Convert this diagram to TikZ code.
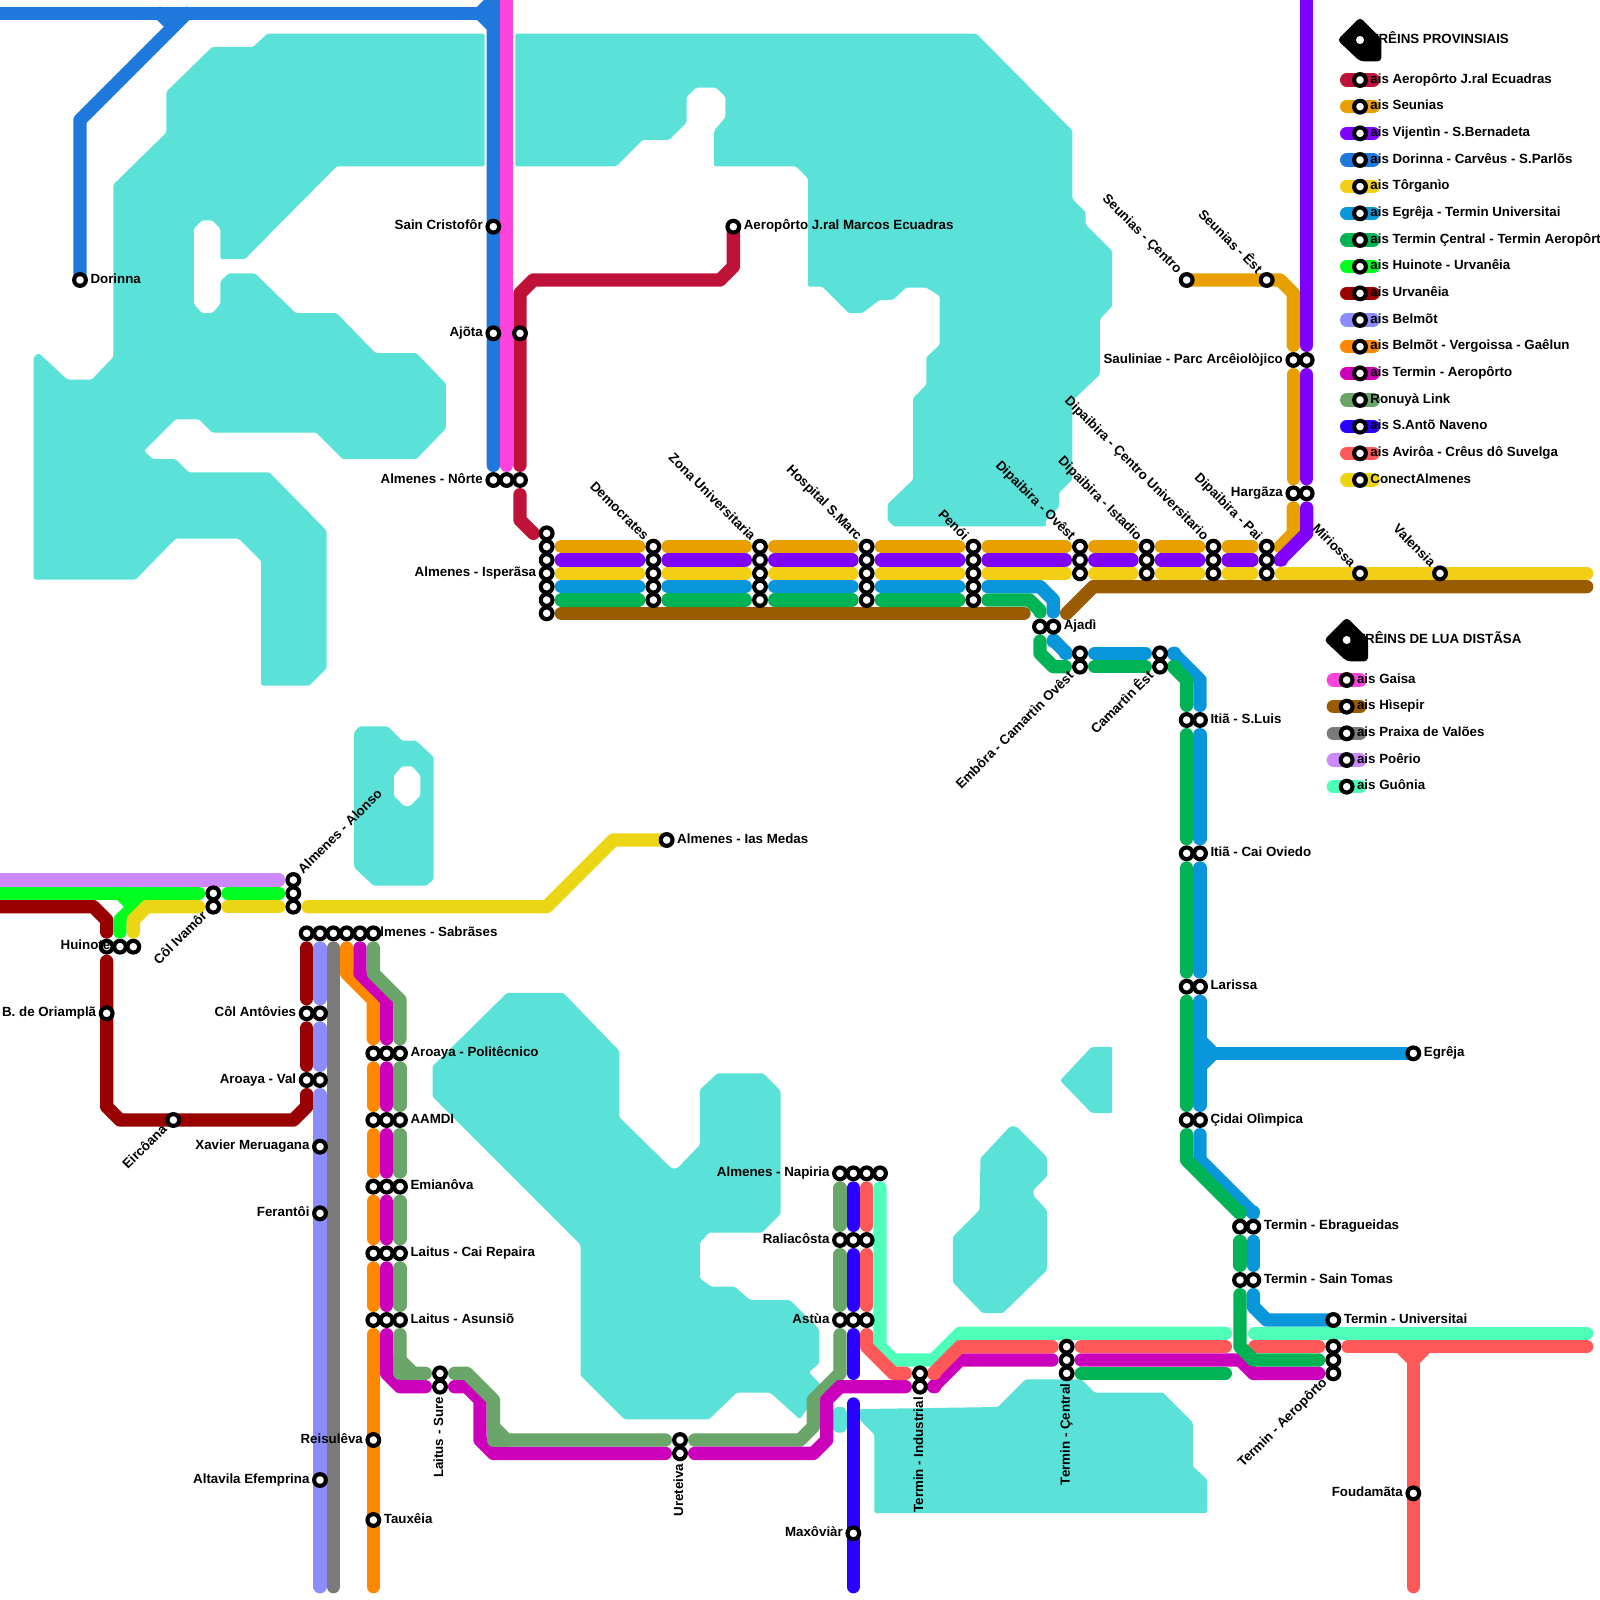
\documentclass[tikz,border=0pt]{standalone}
\usepackage{fontspec}
\setmainfont{Liberation Sans}
\usetikzlibrary{calc}
\definecolor{cwat}{HTML}{5AE2D8}
\definecolor{cae}{HTML}{BF1238}
\definecolor{csn}{HTML}{E8A000}
\definecolor{cvj}{HTML}{8000FF}
\definecolor{cdr}{HTML}{1F78DC}
\definecolor{ctr}{HTML}{F2CE14}
\definecolor{ceg}{HTML}{0A96DA}
\definecolor{ctc}{HTML}{00B354}
\definecolor{chu}{HTML}{00FF20}
\definecolor{cur}{HTML}{990000}
\definecolor{cbe}{HTML}{8C8CFF}
\definecolor{cbv}{HTML}{FF8800}
\definecolor{cta}{HTML}{CC00BB}
\definecolor{cro}{HTML}{6AA56A}
\definecolor{csa}{HTML}{2B00FF}
\definecolor{cav}{HTML}{FF5858}
\definecolor{cco}{HTML}{ECD514}
\definecolor{cga}{HTML}{FF44DD}
\definecolor{chi}{HTML}{995C00}
\definecolor{cpr}{HTML}{7A7A7A}
\definecolor{cpo}{HTML}{CC88FF}
\definecolor{cgu}{HTML}{4DFFB8}
\pgfdeclarelayer{lines}
\pgfdeclarelayer{labs}
\pgfsetlayers{lines,labs,main}
\tikzset{
  wat/.style = {fill=cwat, even odd rule, rounded corners=.8pt},
  ln/.style = {line width=.25cm, line cap=round, line join=round},
  lae/.style = {ln, draw=cae}, lsn/.style = {ln, draw=csn},
  lvj/.style = {ln, draw=cvj}, ldr/.style = {ln, draw=cdr},
  ltr/.style = {ln, draw=ctr}, leg/.style = {ln, draw=ceg},
  ltc/.style = {ln, draw=ctc}, lhu/.style = {ln, draw=chu},
  lur/.style = {ln, draw=cur}, lbe/.style = {ln, draw=cbe},
  lbv/.style = {ln, draw=cbv}, lta/.style = {ln, draw=cta},
  lro/.style = {ln, draw=cro}, lsa/.style = {ln, draw=csa},
  lav/.style = {ln, draw=cav}, lco/.style = {ln, draw=cco},
  lga/.style = {ln, draw=cga}, lhi/.style = {ln, draw=chi},
  lpr/.style = {ln, draw=cpr}, lpo/.style = {ln, draw=cpo},
  lgu/.style = {ln, draw=cgu},
  st/.style = {circle, draw=black, fill=white, line width=2.2pt,
    minimum size=.22cm, inner sep=0pt, outer sep=.165cm},
  lbl/.style = {font=\fontsize{7.11}{8}\selectfont\bfseries, inner sep=0pt,
    text height=5.2pt, text depth=1.9pt},
  txr/.style = {lbl, anchor=west, xshift=.19cm},
  txl/.style = {lbl, anchor=east, xshift=-.19cm},
  txd/.style = {lbl, anchor=east, rotate=-45, xshift=-.2cm},
  txu/.style = {lbl, anchor=east, rotate=45, xshift=-.2cm},
  txa/.style = {lbl, anchor=west, rotate=45, xshift=.2cm},
  txv/.style = {lbl, anchor=east, rotate=90, xshift=-.19cm},
  mrk/.style = {fill=black, rounded corners=2pt}
}
\begin{document}
\begin{tikzpicture}[x=.25cm, y=-.25cm]
  \useasboundingbox (0,0) rectangle (120,120);

  % estacoes
  \foreach \n/\x in {dem/49,zon/57,hos/65,pen/73}
    \foreach \y in {41,...,45} \node [st] (\n\y) at (\x,\y) {};
  \foreach \n/\x in {ovs/81,ist/86,cen/91,pai/95}
    \foreach \y in {41,42,43} \node [st] (\n\y) at (\x,\y) {};
  \foreach \y in {40,...,46} \node [st] (isp\y) at (41,\y) {};
  \foreach \n/\y in {pol/79,aam/84,emi/89,rep/94,asu/99}
    \foreach \x [count=\i] in {28,29,30} \node [st] (\n\i) at (\x,\y) {};
  \foreach \x [count=\i] in {23,...,28} \node [st] (sab\i) at (\x,70) {};
  \foreach \x [count=\i] in {63,...,66} \node [st] (npi\i) at (\x,88) {};
  \foreach \x [count=\i] in {63,64,65} {
    \node [st] (ral\i) at (\x,93) {};
    \node [st] (ast\i) at (\x,99) {};
  }
  \foreach \x [count=\i] in {37,38,39} \node [st] (nor\i) at (\x,36) {};
  \foreach \x [count=\i] in {8,9,10} \node [st] (hui\i) at (\x,71) {};
  \foreach \y [count=\i] in {66,67,68} \node [st] (alo\i) at (22,\y) {};
  \foreach \y [count=\i] in {101,102,103} {
    \node [st] (tce\i) at (80,\y) {};
    \node [st] (tae\i) at (100,\y) {};
  }
  \foreach \n/\x/\y in {sai/37/17,ajo/37/25,ajr/39/25,dor/6/21,aer/55/17,
      sce/89/21,ses/95/21,sau1/97/27,sau2/98/27,har1/97/37,har2/98/37,
      mir/102/43,val/108/43,aja1/78/47,aja2/79/47,cao1/81/49,cao2/81/50,
      cae1/87/49,cae2/87/50,its1/89/54,its2/90/54,ito1/89/64,ito2/90/64,
      lar1/89/74,lar2/90/74,cid1/89/84,cid2/90/84,ebr1/93/92,ebr2/94/92,
      stm1/93/96,stm2/94/96,uni/100/99,egr/106/79,fou/106/112,ind1/69/103,
      ind2/69/104,max/64/115,ure1/51/108,ure2/51/109,sur1/33/103,sur2/33/104,
      ant1/23/76,ant2/24/76,val1/23/81,val2/24/81,xav/24/86,fer/24/91,
      alt/24/111,rei/28/108,tau/28/114,ori/8/76,eir/13/84,iva1/16/67,
      iva2/16/68,med/50/63}
    \node [st] (\n) at (\x,\y) {};

  \begin{pgfonlayer}{lines}
    % agua
    \begin{scope}[scale=0.07653]
      \fill [wat] (262,33) -- (475,33) -- (475,163) -- (330,163) -- (240,254) -- (216,254)
        -- (216,224) -- (208,216) -- (198,216) -- (190,224) -- (190,298) -- (198,307)
        -- (208,307) -- (216,298) -- (216,276) -- (224,268) -- (250,268) -- (290,307)
        -- (330,307) -- (368,346) -- (408,346) -- (437,376) -- (437,420) -- (408,450)
        -- (336,450) -- (310,424) -- (208,424) -- (195,411) -- (172,411) -- (141,442)
        -- (150,450) -- (172,450) -- (185,463) -- (264,463) -- (320,520) -- (320,655)
        -- (303,672) -- (256,672) -- (256,550) -- (234,528) -- (172,528) -- (133,568)
        -- (33,568) -- (33,350) -- (38,346) -- (66,372) -- (90,372) -- (111,350)
        -- (111,181) -- (163,130) -- (163,90) -- (208,46) -- (248,46) -- cycle;
      \fill [wat] (505,33) -- (957,33) -- (1051,128) -- (1051,195) -- (1064,208) -- (1064,220)
        -- (1090,246) -- (1090,300) -- (1078,313) -- (1078,367) -- (1051,393) -- (1051,470)
        -- (1038,483) -- (1038,497) -- (1025,510) -- (1025,516) -- (876,516) -- (870,510)
        -- (870,494) -- (895,470) -- (895,390) -- (908,377) -- (908,350) -- (921,338)
        -- (921,290) -- (908,282) -- (888,282) -- (875,294) -- (862,294) -- (845,307)
        -- (832,307) -- (806,281) -- (792,281) -- (792,175) -- (780,163) -- (700,163)
        -- (700,128) -- (711,115) -- (711,95) -- (702,86) -- (682,86) -- (673,95)
        -- (673,120) -- (656,137) -- (630,137) -- (604,163) -- (505,163) -- cycle;
      \fill [wat] (352,712) -- (380,712) -- (394,726) -- (408,726) -- (425,742) -- (425,862)
        -- (418,868) -- (366,868) -- (347,850) -- (347,718) -- cycle
        (386,760) -- (394,751) -- (404,751) -- (412,760) -- (412,780) -- (402,790)
        -- (396,790) -- (386,780) -- cycle;
      \fill [wat] (497,973) -- (552,973) -- (607,1030) -- (607,1095) -- (658,1145) -- (664,1145)
        -- (686,1122) -- (686,1068) -- (703,1052) -- (748,1052) -- (765,1069) -- (765,1190)
        -- (747,1208) -- (695,1208) -- (686,1218) -- (686,1253) -- (697,1261) -- (720,1261)
        -- (735,1274) -- (774,1274) -- (803,1303) -- (803,1336) -- (793,1345) -- (806,1359)
        -- (784,1391) -- (755,1365) -- (722,1365) -- (695,1391) -- (612,1391) -- (569,1348)
        -- (569,1220) -- (424,1075) -- (424,1045) -- cycle;
      \fill [wat] (1070,1026) -- (1090,1026) -- (1090,1091) -- (1070,1091) -- (1039,1059) -- cycle;
      \fill [wat] (961,1135) -- (990,1104) -- (996,1104) -- (1026,1134) -- (1026,1153)
        -- (1013,1166) -- (1013,1172) -- (1026,1186) -- (1026,1245) -- (983,1287)
        -- (963,1287) -- (934,1257) -- (934,1212) -- (960,1186) -- cycle;
      \fill [wat] (843,1381) -- (978,1379) -- (1005,1352) -- (1060,1352) -- (1073,1365)
        -- (1140,1365) -- (1169,1394) -- (1169,1437) -- (1183,1450) -- (1183,1483)
        -- (857,1483) -- (857,1406) -- (843,1392) -- cycle;
      \fill [wat] (819,1379) -- (827,1379) -- (830,1383) -- (830,1400) -- (827,1404)
        -- (819,1404) -- (816,1400) -- (816,1383) -- cycle;
    \end{scope}

    % linhas que vem da esquerda
    \draw [lur] (0,68) -- (7,68) -- (8,69) -- (hui1);
    \draw [lur] (hui1) -- (8,83) -- (9,84) -- (22,84) -- (23,83) -- (val1);
    \draw [lur] (val1) -- (ant1);
    \draw [lur] (ant1) -- (sab1);
    \draw [lpo] (0,66) -- (alo1);
    \draw [lhu] (0,67) -- (iva1);
    \draw [lhu] (iva1) -- (alo2);
    \draw [lhu] (9,67) -- (10,68) -- (11,67);
    \draw [lhu] (10,68) -- (9,69) -- (hui2);
    \draw [lco] (hui3) -- (10,69) -- (11,68) -- (iva2);
    \draw [lco] (iva2) -- (alo3);
    \draw [lco] (alo3) -- (41,68) -- (46,63) -- (med.center);

    % linhas de Sabrases
    \draw [lbe] (sab2) -- (ant2);
    \draw [lbe] (ant2) -- (val2);
    \draw [lbe] (val2) -- (24,119);
    \draw [lpr] (sab3) -- (25,119);
    \draw [lbv] (sab4) -- (26,73) -- (28,75) -- (pol1);
    \foreach \a/\b in {pol/aam,aam/emi,emi/rep,rep/asu} {
      \draw [lbv] (\a1) -- (\b1);
      \draw [lta] (\a2) -- (\b2);
    }
    \draw [lbv] (asu1) -- (28,119);
    \draw [lta] (sab5) -- (27,73) -- (29,75) -- (pol2);
    \draw [lta] (asu2) -- (29,103) -- (30,104) -- (sur2);
    \draw [lta] (sur2) -- (35,104) -- (36,105) -- (36,108) -- (37,109) -- (ure2);
    \draw [lro] (sab6) -- (28,73) -- (30,75) -- (pol3);
    \foreach \a/\b in {pol/aam,aam/emi,emi/rep,rep/asu} \draw [lro] (\a3) -- (\b3);
    \draw [lro] (asu3) -- (30,102) -- (31,103) -- (sur1);
    \draw [lro] (30,102) -- (30,103) -- (31,103);
    \draw [lro] (sur1) -- (35,103) -- (37,105) -- (37,107) -- (38,108) -- (ure1);
    \draw [lro] (37,107) -- (37,108) -- (38,108);
    \draw [lro] (ure1) -- (60,108) -- (61,107) -- (61,105) -- (63,103) -- (ast1);
    \draw [lro] (ast1) -- (ral1);
    \draw [lro] (ral1) -- (npi1);
    \draw [lta] (ure2) -- (61,109) -- (62,108) -- (62,105) -- (63,104) -- (ind2);
    \draw [lta] (ind2) -- (70,104) -- (72,102) -- (tce2);
    \draw [lta] (tce2) -- (93,102) -- (94,103) -- (tae3);

    % topo
    \draw [ldr] (0,1) -- (36,1);
    \draw [ldr] (12,1) -- (13,2) -- (14,1);
    \draw [ldr] (13,2) -- (6,9) -- (dor.center);
    \draw [ldr] (37,0) -- (36,1) -- (37,2) -- (sai.center) -- (ajo.center) -- (nor1);
    \draw [ldr] (37,0) -- (37,2);
    \draw [lga] (38,-1) -- (nor2);
    \draw [lae] (aer.center) -- (55,20) -- (54,21) -- (40,21) -- (39,22) -- (ajr.center) -- (nor3);
    \draw [lae] (nor3) -- (39,39) -- (40,40);

    % eixo central
    \foreach \y/\s in {41/lsn,42/lvj,43/ltr}
      \foreach \a/\b in {isp/dem,dem/zon,zon/hos,hos/pen,pen/ovs,ovs/ist,ist/cen,cen/pai}
        \draw [\s] (\a\y) -- (\b\y);
    \foreach \y/\s in {44/leg,45/ltc}
      \foreach \a/\b in {isp/dem,dem/zon,zon/hos,hos/pen}
        \draw [\s] (\a\y) -- (\b\y);
    \draw [lhi] (isp46) -- (76.8,46);
    \draw [lhi] (80,46) -- (82,44) -- (119,44);
    \draw [ltr] (pai43) -- (119,43);
    \draw [lsn] (sce.center) -- (96,21) -- (97,22) -- (sau1);
    \draw [lsn] (sau1) -- (har1);
    \draw [lsn] (har1) -- (97,40) -- (96,41) -- (pai41);
    \draw [lvj] (98,-1) -- (sau2);
    \draw [lvj] (sau2) -- (har2);
    \draw [lvj] (har2) -- (98,40) -- (96,42) -- (pai42);

    % egreja e termin
    \draw [leg] (pen44) -- (78,44) -- (79,45) -- (aja2);
    \draw [leg] (aja2) -- (79,48) -- (80,49) -- (cao1);
    \draw [leg] (cao1) -- (cae1);
    \draw [leg] (cae1) -- (88,49) -- (90,51) -- (its2);
    \draw [leg] (its2) -- (ito2);
    \draw [leg] (ito2) -- (lar2);
    \draw [leg] (lar2) -- (cid2);
    \draw [leg] (90,78) -- (91,79) -- (90,80);
    \draw [leg] (91,79) -- (egr.center);
    \draw [leg] (cid2) -- (90,87) -- (94,91) -- (ebr2);
    \draw [leg] (ebr2) -- (stm2);
    \draw [leg] (stm2) -- (94,98) -- (95,99) -- (uni.center);
    \draw [lgu] (npi4) -- (66,101) -- (67,102) -- (70,102) -- (72,100) -- (91.9,100);
    \draw [lgu] (94.1,100) -- (119,100);
    \draw [lav] (npi3) -- (ral3);
    \draw [lav] (ral3) -- (ast3);
    \draw [lav] (ast3) -- (65,101) -- (67,103) -- (ind1);
    \draw [lav] (ind1) -- (70,103) -- (72,101) -- (tce1);
    \draw [lav] (tce1) -- (91.9,101);
    \draw [lav] (94.1,101) -- (tae1);
    \draw [lav] (tae1) -- (119,101);
    \draw [lav] (105,101) -- (106,102) -- (107,101);
    \draw [lav] (106,102) -- (106,119);
    \draw [lsa] (npi2) -- (ral2);
    \draw [lsa] (ral2) -- (ast2);
    \draw [lsa] (ast2) -- (64,103);
    \draw [lsa] (64,105.3) -- (64,119);
    \draw [ltc] (pen45) -- (77.2,45) -- (78,45.8) -- (aja1);
    \draw [ltc] (aja1) -- (78,49) -- (79,50) -- (cao2);
    \draw [ltc] (cao2) -- (cae2);
    \draw [ltc] (cae2) -- (88,50) -- (89,51) -- (its1);
    \draw [ltc] (its1) -- (ito1);
    \draw [ltc] (ito1) -- (lar1);
    \draw [ltc] (lar1) -- (cid1);
    \draw [ltc] (cid1) -- (89,87) -- (93,91) -- (ebr1);
    \draw [ltc] (ebr1) -- (stm1);
    \draw [ltc] (stm1) -- (93,101) -- (94,102) -- (tae2);
    \draw [ltc] (tce3) -- (91.9,103);
  \end{pgfonlayer}

  \begin{pgfonlayer}{labs}
    \foreach \n/\t in {dor/Dorinna,aer/Aeropôrto J.ral Marcos Ecuadras,aja2/Ajadì,
        its2/Itiã - S.Luis,ito2/Itiã - Cai Oviedo,lar2/Larissa,cid2/Çidai Olìmpica,
        egr/Egrêja,ebr2/Termin - Ebragueidas,stm2/Termin - Sain Tomas,
        uni/Termin - Universitai,med/Almenes - Ias Medas,pol3/Aroaya - Politêcnico,
        aam3/AAMDI,emi3/Emianôva,rep3/Laitus - Cai Repaira,asu3/Laitus - Asunsiõ,
        tau/Tauxêia}
      \node [txr] (t\n) at (\n) {\t};
    \foreach \n/\t in {sai/Sain Cristofôr,ajo/Ajõta,nor1/Almenes - Nôrte,
        isp43/Almenes - Isperãsa,sau1/Sauliniae - Parc Arcêiolòjico,har1/Hargãza,
        npi1/Almenes - Napiria,ral1/Raliacôsta,ast1/Astùa,max/Maxôviàr,fou/Foudamãta,
        rei/Reisulêva,alt/Altavila Efemprina,xav/Xavier Meruagana,fer/Ferantôi,
        ant1/Côl Antôvies,val1/Aroaya - Val,ori/B. de Oriamplã}
      \node [txl] (t\n) at (\n) {\t};
    \foreach \n/\t in {dem41/Democrates,zon41/Zona Universitaria,hos41/Hospital S.Marc,
        pen41/Penói,ovs41/Dipaibira - Ovêst,ist41/Dipaibira - Istadio,
        cen41/Dipaibira - Çentro Universitario,pai41/Dipaibira - Pai,mir/Miriossa,
        val/Valensia,sce/Seunias - Çentro,ses/Seunias - Êst}
      \node [txd] (t\n) at (\n) {\t};
    \foreach \n/\t in {cao2/Embôra - Camartìn Ovêst,cae2/Camartìn Êst,
        tae3/Termin - Aeropôrto,iva2/Côl Ivamôr,eir/Eircôana}
      \node [txu] (t\n) at (\n) {\t};
    \node [txa] (talo) at (alo1) {Almenes - Alonso};
    \foreach \n/\t in {sur2/Laitus - Sure,ure2/Ureteiva,ind2/Termin - Industrial,
        tce3/Termin - Çentral}
      \node [txv] (t\n) at (\n) {\t};
    \node [lbl, anchor=west] (tsab) at (27.78,70) {Almenes - Sabrãses};
  \end{pgfonlayer}
  \node [lbl, anchor=east, xshift=.075cm] (thui) at (hui1) {Huinote};

  % legenda
  \node [lbl, anchor=west] (tprov) at (102.75,3) {TRÊINS PROVINSIAIS};
  \fill [mrk] (100.3,3) -- (102,1.3) -- (103.6,2.9) -- (103.6,4.6) -- (102,4.6) -- cycle;
  \fill [white] (102,3) circle (.3);
  \foreach \s/\t [count=\i, evaluate=\i as \y using int(4+2*\i)] in {lae/ais Aeropôrto J.ral Ecuadras,
      lsn/ais Seunias,lvj/ais Vijentìn - S.Bernadeta,ldr/ais Dorinna - Carvêus - S.Parlõs,
      ltr/ais Tôrganìo,leg/ais Egrêja - Termin Universitai,ltc/ais Termin Çentral - Termin Aeropôrto,
      lhu/ais Huinote - Urvanêia,lur/ais Urvanêia,lbe/ais Belmõt,lbv/ais Belmõt - Vergoissa - Gaêlun,
      lta/ais Termin - Aeropôrto,lro/Ronuyà Link,lsa/ais S.Antõ Naveno,
      lav/ais Avirôa - Crêus dô Suvelga,lco/ConectAlmenes} {
    \draw [\s] (101,\y) -- (103,\y);
    \node [st] (pv\i) at (102,\y) {};
    \node [lbl, anchor=west] (tpv\i) at (102.75,\y) {\t};
  }
  \node [lbl, anchor=west] (tlua) at (101.75,48) {TRÊINS DE LUA DISTÃSA};
  \fill [mrk] (99.3,48) -- (101,46.3) -- (102.6,47.9) -- (102.6,49.6) -- (101,49.6) -- cycle;
  \fill [white] (101,48) circle (.3);
  \foreach \s/\t [count=\i, evaluate=\i as \y using int(49+2*\i)] in {lga/ais Gaisa,lhi/ais Hìsepir,
      lpr/ais Praixa de Valões,lpo/ais Poêrio,lgu/ais Guônia} {
    \draw [\s] (100,\y) -- (102,\y);
    \node [st] (ld\i) at (101,\y) {};
    \node [lbl, anchor=west] (tld\i) at (101.75,\y) {\t};
  }
\end{tikzpicture}
\end{document}
